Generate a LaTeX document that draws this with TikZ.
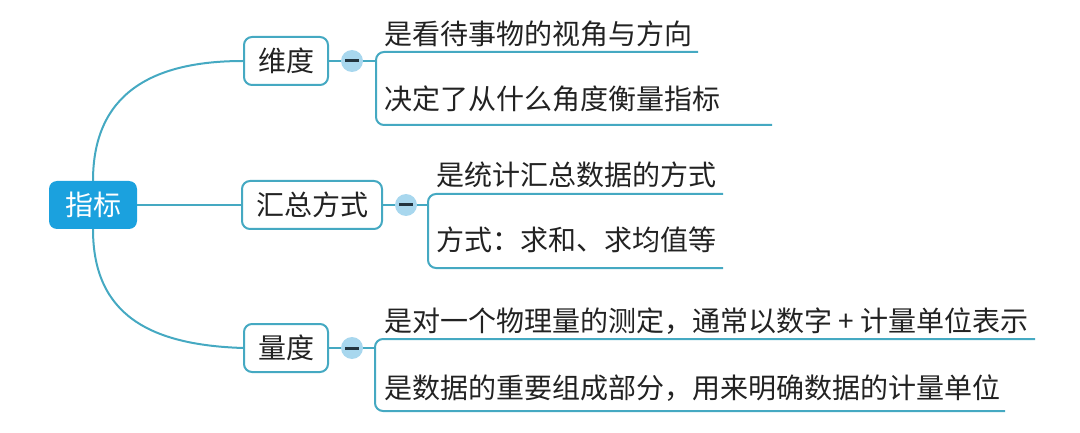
\documentclass[tikz,border=0pt]{standalone}
\usepackage{fontspec}
\setmainfont{Noto Sans CJK SC}

\definecolor{linkcol}{HTML}{45A9C2}
\definecolor{rootcol}{HTML}{1BA1DE}
\definecolor{foldcol}{HTML}{A8D7EE}
\definecolor{dashcol}{HTML}{22343F}
\definecolor{textcol}{HTML}{222222}

\begin{document}
\begin{tikzpicture}[x=1pt, y=-1pt, font=\fontsize{28}{31}\selectfont,
    link/.style={draw=linkcol, line width=2pt},
    topic/.style={draw=linkcol, line width=2pt, rounded corners=8pt, fill=white,
        inner xsep=14pt, inner ysep=0pt, minimum height=48pt, text=textcol},
    rootbox/.style={fill=rootcol, rounded corners=8pt, inner xsep=16pt,
        inner ysep=0pt, minimum height=48pt, text=white},
    fold/.style={circle, fill=foldcol, minimum size=22pt, inner sep=0pt},
    leaf/.style={anchor=west, inner sep=0pt, text=textcol}]

    \useasboundingbox (0,0) rectangle (1080,433);

    % Draw the root
    \node[rootbox] (root) at (93,205) {指标};

    % Draw the three topics
    \node[topic] (dim) at (286,61) {维度};
    \node[topic] (agg) at (312,205) {汇总方式};
    \node[topic] (meas) at (286,348) {量度};

    % Draw the fold buttons
    \node[fold] (dimfold) at (352,61) {};
    \node[fold] (aggfold) at (406,205) {};
    \node[fold] (measfold) at (352,348) {};
    \foreach \f in {dimfold, aggfold, measfold}
        \draw[dashcol, line width=3pt] ([xshift=-7pt]\f.center) -- ([xshift=7pt]\f.center);

    % Draw the leaves
    \node[leaf] (dimA) at (384,34) {是看待事物的视角与方向};
    \node[leaf] (dimB) at (384,99) {决定了从什么角度衡量指标};
    \node[leaf] (aggA) at (436,175) {是统计汇总数据的方式};
    \node[leaf] (aggB) at (436,240) {方式：求和、求均值等};
    \node[leaf] (measA) at (384,321) {是对一个物理量的测定，通常以数字 + 计量单位表示};
    \node[leaf] (measB) at (384,388) {是数据的重要组成部分，用来明确数据的计量单位};

    % Draw the joints and line ends
    \coordinate (dimjoint) at (376,61);
    \coordinate (dimtop) at (376,52);
    \coordinate (dimbot) at (376,125);
    \coordinate (dimAend) at (698,52);
    \coordinate (dimBend) at (772,125);

    \coordinate (aggjoint) at (428,205);
    \coordinate (aggtop) at (428,194);
    \coordinate (aggbot) at (428,268);
    \coordinate (aggAend) at (723,194);
    \coordinate (aggBend) at (723,268);

    \coordinate (measjoint) at (375,348);
    \coordinate (meastop) at (375,339);
    \coordinate (measbot) at (375,411);
    \coordinate (measAend) at (1035,339);
    \coordinate (measBend) at (1005,411);

    % Draw the links from the root
    \draw[link] (root.north) .. controls (93,95) and (150,61) .. (dim.west);
    \draw[link] (root.east) -- (agg.west);
    \draw[link] (root.south) .. controls (93,315) and (150,345) .. (meas.west);

    % Draw the links to the folds
    \draw[link] (dim.east) -- (dimfold.west);
    \draw[link] (dimfold.east) -- (dimjoint);
    \draw[link] (agg.east) -- (aggfold.west);
    \draw[link] (aggfold.east) -- (aggjoint);
    \draw[link] (meas.east) -- (measfold.west);
    \draw[link] (measfold.east) -- (measjoint);

    % Draw the brackets under the leaves
    \draw[link, rounded corners=8pt] (dimAend) -- (dimtop) -- (dimbot) -- (dimBend);
    \draw[link, rounded corners=8pt] (aggAend) -- (aggtop) -- (aggbot) -- (aggBend);
    \draw[link, rounded corners=8pt] (measAend) -- (meastop) -- (measbot) -- (measBend);

\end{tikzpicture}
\end{document}
